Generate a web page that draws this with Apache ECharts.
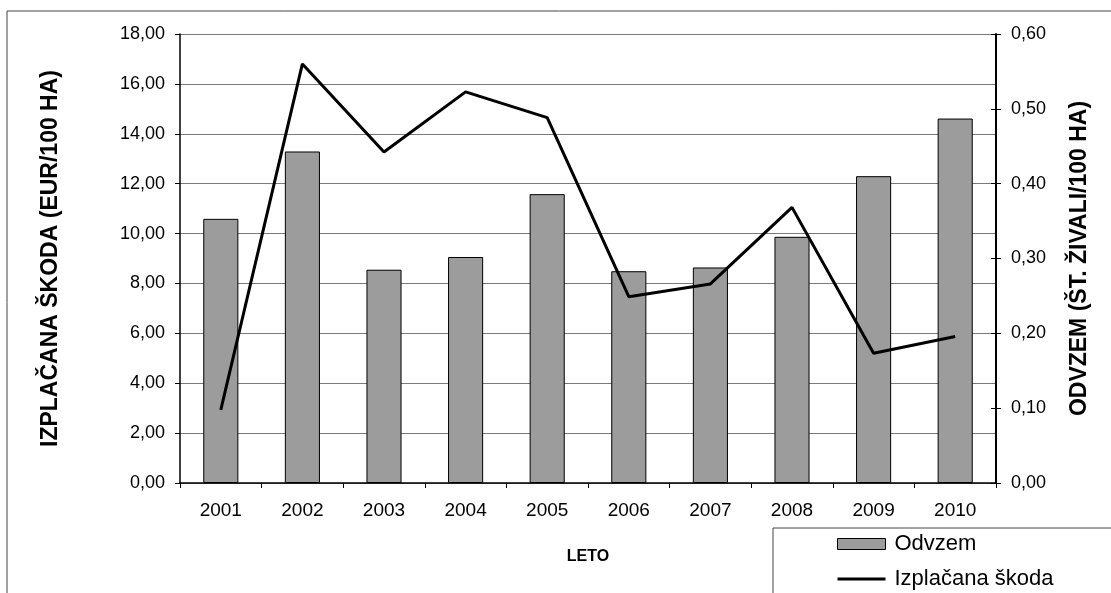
<!DOCTYPE html>
<html>
<head>
<meta charset="utf-8">
<script src="https://cdn.jsdelivr.net/npm/echarts@6/dist/echarts.min.js"></script>
<style>
  html, body { margin: 0; padding: 0; background: #fff; }
  #chart { width: 1111px; height: 593px; }
</style>
</head>
<body>
<div id="chart"></div>
<script>
// Years on the category axis
const years = ['2001', '2002', '2003', '2004', '2005', '2006', '2007', '2008', '2009', '2010'];
// Odvzem (št. živali/100 ha) – bars, right axis
const odvzem = [0.353, 0.443, 0.285, 0.302, 0.386, 0.283, 0.288, 0.329, 0.410, 0.487];
// Izplačana škoda (EUR/100 ha) – line, left axis
const skoda = [2.93, 16.80, 13.27, 15.68, 14.65, 7.47, 7.98, 11.05, 5.20, 5.87];

const fmt = (d) => (v) => v.toFixed(d).replace('.', ',');
const FONT = '"Liberation Sans", Arial, sans-serif';

const chart = echarts.init(document.getElementById('chart'), null, { renderer: 'canvas' });
chart.setOption({
  animation: false,
  textStyle: { fontFamily: FONT, color: '#000' },
  grid: { left: 180, right: 115, top: 34, bottom: 110 },
  graphic: [
    // outer chart frame
    { type: 'rect', z: -10, shape: { x: 7, y: 11, width: 1300, height: 800 },
      style: { fill: 'none', stroke: '#444', lineWidth: 1 } },
    // legend box
    { type: 'rect', z: 0, shape: { x: 773, y: 528, width: 400, height: 120 },
      style: { fill: '#fff', stroke: '#444', lineWidth: 1 } }
  ],
  legend: {
    orient: 'vertical', left: 837, top: 533, itemGap: 13, padding: 0,
    itemWidth: 48, itemHeight: 11, z: 5,
    textStyle: { fontFamily: FONT, fontSize: 22, lineHeight: 22, color: '#000', padding: [0, 0, 0, 4] },
    data: [
      { name: 'Odvzem', icon: 'rect', itemStyle: { color: '#9c9c9c', borderColor: '#000', borderWidth: 1 } },
      { name: 'Izplačana škoda', icon: 'path://M0,0 L48,0 L48,3 L0,3 Z',
        itemStyle: { color: '#000', borderWidth: 0 } }
    ]
  },
  xAxis: {
    type: 'category', data: years, boundaryGap: true,
    name: 'LETO', nameLocation: 'middle', nameGap: 66,
    nameTextStyle: { fontFamily: FONT, fontWeight: 'bold', fontSize: 16, color: '#000' },
    axisLine: { lineStyle: { color: '#000', width: 1.5 } },
    axisTick: { show: true, interval: 0, length: 5, lineStyle: { color: '#000' } },
    axisLabel: { fontSize: 19, color: '#000', margin: 18, fontFamily: FONT }
  },
  yAxis: [
    {
      type: 'value', min: 0, max: 18, interval: 2, position: 'left',
      name: 'IZPLAČANA ŠKODA (EUR/100 HA)', nameLocation: 'middle', nameGap: 118, nameRotate: 90,
      nameTextStyle: { fontFamily: FONT, fontWeight: 'bold', fontSize: 23, color: '#000' },
      axisLine: { show: true, lineStyle: { color: '#000', width: 1.5 } },
      axisTick: { show: true, length: 5, lineStyle: { color: '#000' } },
      axisLabel: { formatter: fmt(2), fontSize: 18, color: '#000', margin: 15, fontFamily: FONT },
      splitLine: { show: true, lineStyle: { color: '#7a7a7a', width: 1 } }
    },
    {
      type: 'value', min: 0, max: 0.6, interval: 0.1, position: 'right',
      name: 'ODVZEM (ŠT. ŽIVALI/100 HA)', nameLocation: 'middle', nameGap: 72, nameRotate: 90,
      nameTextStyle: { fontFamily: FONT, fontWeight: 'bold', fontSize: 23, color: '#000' },
      axisLine: { show: true, lineStyle: { color: '#000', width: 2 } },
      axisTick: { show: true, length: 5, lineStyle: { color: '#000' } },
      axisLabel: { formatter: fmt(2), fontSize: 18, color: '#000', margin: 15, fontFamily: FONT },
      splitLine: { show: false }
    },
    {
      // inner half of the right-hand tick marks (ticks cross the axis line)
      type: 'value', min: 0, max: 0.6, interval: 0.1, position: 'right',
      axisLine: { show: false },
      axisTick: { show: true, inside: true, length: 5, lineStyle: { color: '#000' } },
      axisLabel: { show: false },
      splitLine: { show: false }
    }
  ],
  series: [
    {
      name: 'Odvzem', type: 'bar', yAxisIndex: 1, data: odvzem, barWidth: '43%',
      itemStyle: { color: '#9c9c9c', borderColor: '#000', borderWidth: 1 }
    },
    {
      name: 'Izplačana škoda', type: 'line', yAxisIndex: 0, data: skoda,
      symbol: 'none', lineStyle: { color: '#000', width: 3 }, itemStyle: { color: '#000' }, z: 3
    }
  ]
});
</script>
</body>
</html>
